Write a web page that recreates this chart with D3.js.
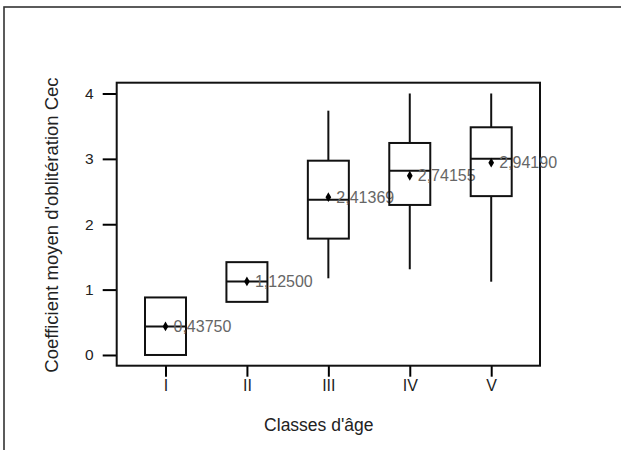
<!DOCTYPE html>
<html><head><meta charset="utf-8">
<script src="https://cdn.jsdelivr.net/npm/d3@7"></script>
<style>body{margin:0;background:#fff}svg{display:block}</style>
</head><body>
<script>
const categories = ["I","II","III","IV","V"];
const q1 = [0, 0.8125, 1.78, 2.295, 2.43];
const median = [0.4375, 1.125, 2.376, 2.82, 3.0];
const q3 = [0.88, 1.42, 2.972, 3.243, 3.483];
const whiskerLow = [0, 0.8125, 1.173, 1.311, 1.121];
const whiskerHigh = [0.88, 1.42, 3.737, 4.0, 4.0];
const means = [0.43750, 1.12500, 2.41369, 2.74155, 2.94190];
const meanLabels = ["0,43750","1,12500","2,41369","2,74155","2,94190"];
const yTicks = [0,1,2,3,4];

const W = 621, H = 450;
const svg = d3.select("body").append("svg").attr("width", W).attr("height", H);
const font = "'Liberation Sans', Arial, sans-serif";

// outer frame
svg.append("rect").attr("x",4).attr("y",7).attr("width",W+10).attr("height",H+10)
  .attr("fill","none").attr("stroke","#333").attr("stroke-width",1.6);

const L = 116.7, R = 540, T = 82.7, B = 365.7;
const y = d3.scaleLinear().domain([-0.164, 4.165]).range([B, T]);
const x = d3.scalePoint().domain(categories).range([165.5, 491.2]);
const bw = 41;

// y axis
const ya = svg.append("g").attr("transform",`translate(${L},0)`)
  .call(d3.axisLeft(y).tickValues(yTicks).tickSize(14).tickPadding(9).tickFormat(d3.format("d")));
ya.select(".domain").remove();
ya.selectAll("line").attr("stroke","#000").attr("stroke-width",2);
ya.selectAll("text").attr("font-family",font).attr("font-size",15.5).attr("fill","#222");

// x axis
const xa = svg.append("g").attr("transform",`translate(0,${B})`)
  .call(d3.axisBottom(x).tickSize(11).tickPadding(3));
xa.select(".domain").remove();
xa.selectAll("line").attr("stroke","#000").attr("stroke-width",2);
xa.selectAll("text").attr("font-family",font).attr("font-size",16).attr("fill","#222");

// plot frame
svg.append("rect").attr("x",L).attr("y",T).attr("width",R-L).attr("height",B-T)
  .attr("fill","none").attr("stroke","#111").attr("stroke-width",2);

const g = svg.append("g");
categories.forEach((c,i)=>{
  const cx = x(c);
  if (whiskerHigh[i] > q3[i]) g.append("line").attr("x1",cx).attr("x2",cx)
    .attr("y1",y(q3[i])).attr("y2",y(whiskerHigh[i])).attr("stroke","#111").attr("stroke-width",2);
  if (whiskerLow[i] < q1[i]) g.append("line").attr("x1",cx).attr("x2",cx)
    .attr("y1",y(q1[i])).attr("y2",y(whiskerLow[i])).attr("stroke","#111").attr("stroke-width",2);
  g.append("rect").attr("x",cx-bw/2).attr("y",y(q3[i])).attr("width",bw)
    .attr("height",y(q1[i])-y(q3[i])).attr("fill","none").attr("stroke","#111").attr("stroke-width",2);
  g.append("line").attr("x1",cx-bw/2).attr("x2",cx+bw/2)
    .attr("y1",y(median[i])).attr("y2",y(median[i])).attr("stroke","#111").attr("stroke-width",2);
  g.append("path").attr("d",d3.symbol(d3.symbolDiamond,28)())
    .attr("transform",`translate(${cx},${y(means[i])})`).attr("fill","#000");
  g.append("text").attr("x",cx+8).attr("y",y(means[i])+5.5)
    .attr("font-family",font).attr("font-size",16).attr("fill","#666").text(meanLabels[i]);
});

// titles
svg.append("text").attr("x",318.8).attr("y",431).attr("text-anchor","middle")
  .attr("font-family",font).attr("font-size",17.5).attr("fill","#222").text("Classes d'âge");
svg.append("text").attr("transform","translate(58,225) rotate(-90)").attr("text-anchor","middle")
  .attr("font-family",font).attr("font-size",18.5).attr("fill","#222").text("Coefficient moyen d'oblitération Cec");
</script>
</body></html>
